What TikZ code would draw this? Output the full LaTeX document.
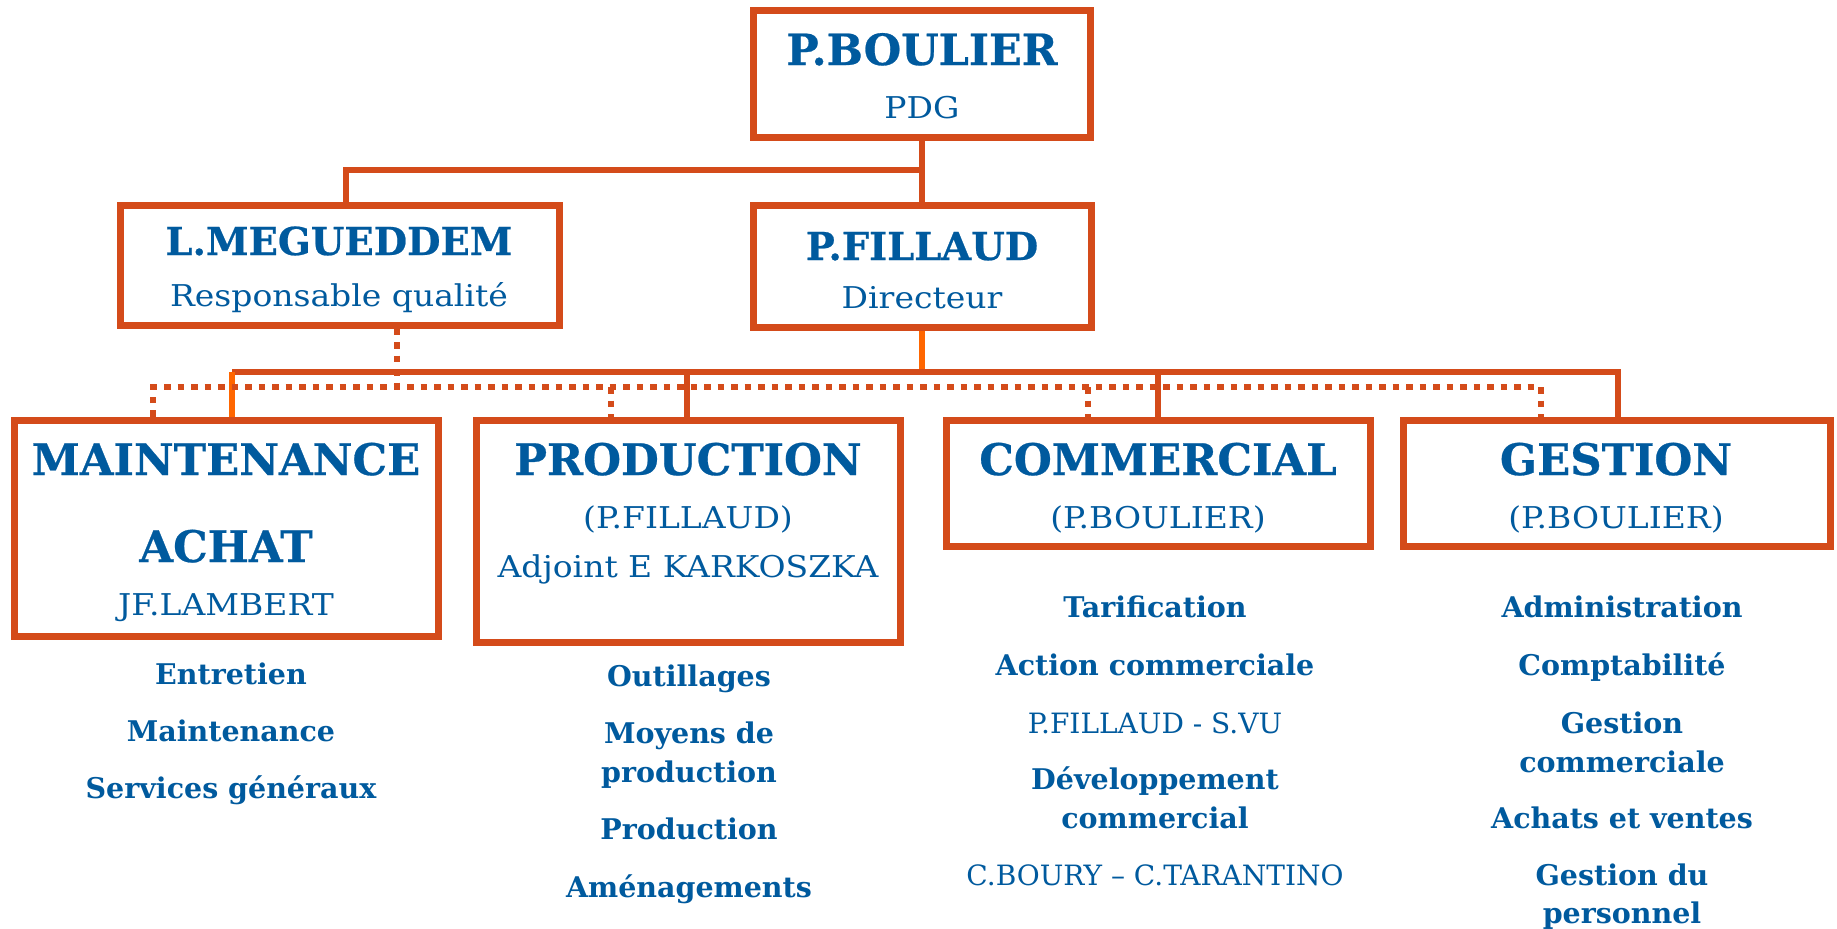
\documentclass[tikz,border=0pt]{standalone}
\usepackage{fontspec}
\setmainfont{DejaVu Serif}
\newfontfamily\widefont[FakeStretch=1.1]{DejaVu Serif}
\newfontfamily\heavyfont[FakeBold=0.6]{DejaVu Serif Bold}
\definecolor{tblue}{RGB}{0,90,158}
\definecolor{lorange}{RGB}{212,75,26}
\definecolor{borange}{RGB}{255,102,0}
\begin{document}
\begin{tikzpicture}[x=1pt,y=-1pt,
  box/.style={draw=lorange, line width=7pt, inner sep=0pt, fill=white},
  conn/.style={draw=lorange, line width=6pt},
  bconn/.style={draw=borange, line width=6pt},
  dotc/.style={draw=lorange, line width=6pt, dash pattern=on 6.5pt off 7pt},
  txt/.style={text=tblue, anchor=base, inner sep=0pt},
  bigt/.style={txt, font=\heavyfont\fontsize{43.5}{43.5}\selectfont},
  namet/.style={txt, font=\heavyfont\fontsize{38.5}{38.5}\selectfont},
  normt/.style={txt, font=\widefont\fontsize{30}{30}\selectfont},
  subb/.style={txt, font=\bfseries\fontsize{28.5}{28.5}\selectfont},
  subn/.style={txt, font=\fontsize{28}{28}\selectfont}]
\fill[white] (0,0) rectangle (1837,929);
\useasboundingbox (0,0) rectangle (1837,929);
% helper coordinates
\coordinate (x346) at (346,0);
\coordinate (x232) at (232,0);
\coordinate (x687) at (687,0);
\coordinate (x1158) at (1158,0);
\coordinate (x1618) at (1618,0);
\coordinate (x397) at (397,0);
\coordinate (x153) at (153,0);
\coordinate (x611) at (611,0);
\coordinate (x1088) at (1088,0);
\coordinate (x1541) at (1541,0);
\coordinate (ytop) at (0,170);
\coordinate (bus) at (0,372);
\coordinate (dbus) at (0,387);
% boxes
\node[box, minimum width=337pt, minimum height=127pt] (pdg) at (922,73.5) {};
\node[box, minimum width=439pt, minimum height=120pt] (meg) at (339.5,265) {};
\node[box, minimum width=338pt, minimum height=122pt] (fil) at (922,266) {};
\node[box, minimum width=424pt, minimum height=216pt] (mnt) at (226,528) {};
\node[box, minimum width=424pt, minimum height=222pt] (prd) at (688,531) {};
\node[box, minimum width=424pt, minimum height=126pt] (com) at (1158,483) {};
\node[box, minimum width=427pt, minimum height=126pt] (ges) at (1616.5,483) {};
% solid connectors
\draw[conn] (pdg.south) -- (fil.north);
\draw[conn, line join=miter] (pdg.south |- ytop) -| (x346 |- meg.north);
\draw[bconn] (fil.south) -- (fil.south |- bus);
\draw[conn, line join=miter] (x232 |- bus) -- (x1618 |- bus) -- (x1618 |- ges.north);
\draw[bconn] (x232 |- bus) -- (x232 |- mnt.north);
\draw[conn] (x687 |- bus) -- (x687 |- prd.north);
\draw[conn] (x1158 |- bus) -- (x1158 |- com.north);
% dotted connectors
\draw[dotc] (x397 |- meg.south) -- (x397 |- dbus);
\draw[dotc] (x153 |- mnt.north) -- (x153 |- dbus) -- (x1541 |- dbus) -- (x1541 |- ges.north);
\draw[dotc] (x611 |- dbus) -- (x611 |- prd.north);
\draw[dotc] (x1088 |- dbus) -- (x1088 |- com.north);
% box texts
\node[txt, font=\heavyfont\fontsize{43}{43}\selectfont] (t-pdg1) at (922,65) {P.BOULIER};
\node[normt] (t-pdg2) at (922,118) {PDG};
\node[namet] (t-meg1) at (339,255) {L.MEGUEDDEM};
\node[normt] (t-meg2) at (339,306) {Responsable qualité};
\node[namet] (t-fil1) at (922,260) {P.FILLAUD};
\node[normt] (t-fil2) at (922,308) {Directeur};
\node[bigt] (t-mnt1) at (226,475) {MAINTENANCE};
\node[bigt] (t-mnt2) at (226,562) {ACHAT};
\node[normt] (t-mnt3) at (226,615) {JF.LAMBERT};
\node[bigt] (t-prd1) at (688,475) {PRODUCTION};
\node[normt] (t-prd2) at (688,528) {(P.FILLAUD)};
\node[normt] (t-prd3) at (688,577) {Adjoint E KARKOSZKA};
\node[bigt] (t-com1) at (1158,475) {COMMERCIAL};
\node[normt] (t-com2) at (1158,528) {(P.BOULIER)};
\node[bigt] (t-ges1) at (1616,475) {GESTION};
\node[normt] (t-ges2) at (1616,528) {(P.BOULIER)};
% sub lists
\node[subb] (m1) at (231,684) {Entretien};
\node[subb] (m2) at (231,741) {Maintenance};
\node[subb] (m3) at (231,798) {Services généraux};
\node[subb] (p1) at (689,686) {Outillages};
\node[subb] (p2) at (689,743) {Moyens de};
\node[subb] (p3) at (689,782) {production};
\node[subb] (p4) at (689,839) {Production};
\node[subb] (p5) at (689,897) {Aménagements};
\node[subb] (c1) at (1155,617) {Tarification};
\node[subb] (c2) at (1155,675) {Action commerciale};
\node[subn] (c3) at (1155,733) {P.FILLAUD - S.VU};
\node[subb] (c4) at (1155,789) {Développement};
\node[subb] (c5) at (1155,828) {commercial};
\node[subn] (c6) at (1155,885) {C.BOURY – C.TARANTINO};
\node[subb] (g1) at (1622,617) {Administration};
\node[subb] (g2) at (1622,675) {Comptabilité};
\node[subb] (g3) at (1622,733) {Gestion};
\node[subb] (g4) at (1622,772) {commerciale};
\node[subb] (g5) at (1622,828) {Achats et ventes};
\node[subb] (g6) at (1622,885) {Gestion du};
\node[subb] (g7) at (1622,923) {personnel};
\end{tikzpicture}
\end{document}
